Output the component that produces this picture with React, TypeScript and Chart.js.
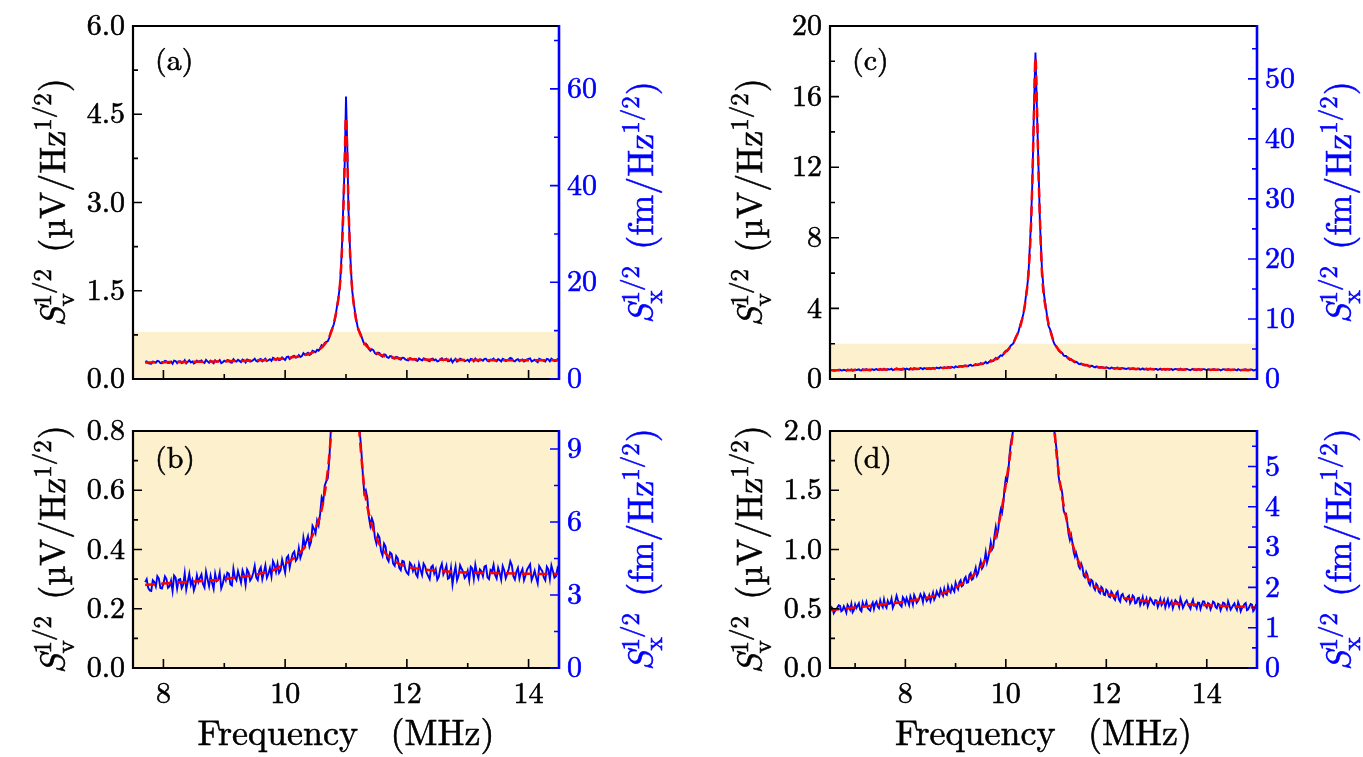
import React, { useEffect, useRef } from 'react';
import { Chart, registerables } from 'chart.js';

Chart.register(...registerables);

// ---------- Spectrum 1 (panels a, b): frequency in MHz, S_v^{1/2} in uV/Hz^{1/2}
const FREQ_1 = [
  7.70, 7.75, 7.80, 7.85, 7.90, 7.95, 8.00, 8.05, 8.10, 8.15, 8.20, 8.25, 8.30, 8.35, 8.40, 8.45,
  8.50, 8.55, 8.60, 8.65, 8.70, 8.75, 8.80, 8.85, 8.90, 8.95, 9.00, 9.05, 9.10, 9.15, 9.20, 9.25,
  9.30, 9.35, 9.40, 9.45, 9.50, 9.55, 9.60, 9.65, 9.70, 9.75, 9.80, 9.85, 9.90, 9.95, 10.00, 10.05,
  10.10, 10.15, 10.20, 10.25, 10.30, 10.35, 10.40, 10.45, 10.50, 10.55, 10.60, 10.65, 10.70, 10.75,
  10.80, 10.85, 10.90, 10.93, 10.96, 10.98, 11.00, 11.02, 11.04, 11.07,
  11.10, 11.15, 11.20, 11.25, 11.30, 11.35, 11.40, 11.45, 11.50, 11.55, 11.60, 11.65, 11.70, 11.75,
  11.80, 11.85, 11.90, 11.95, 12.00, 12.05, 12.10, 12.15, 12.20, 12.25, 12.30, 12.35, 12.40, 12.45,
  12.50, 12.55, 12.60, 12.65, 12.70, 12.75, 12.80, 12.85, 12.90, 12.95, 13.00, 13.05, 13.10, 13.15,
  13.20, 13.25, 13.30, 13.35, 13.40, 13.45, 13.50, 13.55, 13.60, 13.65, 13.70, 13.75, 13.80, 13.85,
  13.90, 13.95, 14.00, 14.05, 14.10, 14.15, 14.20, 14.25, 14.30, 14.35, 14.40, 14.45, 14.50,
];
const SIGNAL_1 = [
  0.29, 0.27, 0.26, 0.29, 0.31, 0.27, 0.285, 0.30, 0.276, 0.26, 0.305, 0.298, 0.27, 0.32, 0.291, 0.281,
  0.262, 0.313, 0.304, 0.284, 0.325, 0.276, 0.287, 0.318, 0.298, 0.269, 0.31, 0.322, 0.283, 0.335, 0.296, 0.308,
  0.329, 0.281, 0.322, 0.304, 0.345, 0.297, 0.34, 0.322, 0.305, 0.337, 0.36, 0.325, 0.321, 0.366, 0.322, 0.379,
  0.366, 0.393, 0.37, 0.372, 0.44, 0.428, 0.41, 0.48, 0.455, 0.482, 0.575, 0.615, 0.64, 0.80,
  0.93, 1.22, 1.58, 2.15, 3.1, 3.7, 4.80, 4.0, 2.9, 2.1,
  1.52, 1.13, 0.84, 0.74, 0.59, 0.575, 0.48, 0.49, 0.42, 0.44, 0.38, 0.41, 0.36, 0.385,
  0.345, 0.37, 0.33, 0.36, 0.322, 0.355, 0.328, 0.317, 0.35, 0.314, 0.343, 0.311, 0.34, 0.319,
  0.298, 0.337, 0.316, 0.345, 0.305, 0.282, 0.343, 0.312, 0.335, 0.304, 0.328, 0.342, 0.301, 0.32,
  0.333, 0.31, 0.345, 0.3, 0.326, 0.314, 0.338, 0.298, 0.33, 0.318, 0.36, 0.31, 0.325, 0.302,
  0.334, 0.312, 0.341, 0.297, 0.328, 0.286, 0.335, 0.306, 0.342, 0.3, 0.327, 0.31, 0.322,
];
// in-between samples of the same trace (wings)
const MID_FREQ_1 = [
  7.725, 7.775, 7.825, 7.875, 7.925, 7.975, 8.025, 8.075, 8.125, 8.175, 8.225, 8.275, 8.325, 8.375, 8.425, 8.475,
  8.525, 8.575, 8.625, 8.675, 8.725, 8.775, 8.825, 8.875, 8.925, 8.975, 9.025, 9.075, 9.125, 9.175, 9.225, 9.275,
  9.325, 9.375, 9.425, 9.475, 9.525, 9.575, 9.625, 9.675, 9.725, 9.775, 9.825, 9.875, 9.925, 9.975,
  10.025, 10.075, 10.125, 10.175, 10.225, 10.275, 10.325, 10.375, 10.425, 10.475, 10.525, 10.575, 10.625,
  10.675, 10.725, 10.775, 10.825, 10.875,
  11.125, 11.175, 11.225, 11.275, 11.325, 11.375, 11.425, 11.475, 11.525, 11.575, 11.625, 11.675, 11.725,
  11.775, 11.825, 11.875, 11.925, 11.975, 12.025, 12.075, 12.125, 12.175, 12.225, 12.275, 12.325, 12.375,
  12.425, 12.475, 12.525, 12.575, 12.625, 12.675, 12.725, 12.775, 12.825, 12.875, 12.925, 12.975,
  13.025, 13.075, 13.125, 13.175, 13.225, 13.275, 13.325, 13.375, 13.425, 13.475, 13.525, 13.575, 13.625,
  13.675, 13.725, 13.775, 13.825, 13.875, 13.925, 13.975, 14.025, 14.075, 14.125, 14.175, 14.225, 14.275,
  14.325, 14.375, 14.425, 14.475,
];
const MID_SIGNAL_1 = [
  0.300, 0.262, 0.296, 0.275, 0.302, 0.268, 0.309, 0.271, 0.295, 0.312, 0.268, 0.300, 0.281, 0.265, 0.318, 0.297,
  0.279, 0.290, 0.316, 0.272, 0.300, 0.311, 0.267, 0.293, 0.322, 0.284, 0.296, 0.318, 0.279, 0.306, 0.327, 0.288,
  0.314, 0.332, 0.295, 0.321, 0.306, 0.329, 0.300, 0.346, 0.318, 0.309, 0.348, 0.352, 0.330, 0.345,
  0.372, 0.340, 0.386, 0.362, 0.405, 0.388, 0.412, 0.445, 0.425, 0.470, 0.498, 0.52, 0.56,
  0.63, 0.70, 0.86, 1.05, 1.38,
  1.30, 0.97, 0.80, 0.66, 0.60, 0.51, 0.505, 0.44, 0.45, 0.395, 0.42, 0.37, 0.39,
  0.352, 0.378, 0.338, 0.362, 0.333, 0.316, 0.348, 0.343, 0.308, 0.331, 0.352, 0.322, 0.300,
  0.346, 0.333, 0.308, 0.352, 0.329, 0.301, 0.338, 0.318, 0.296, 0.347, 0.325, 0.311,
  0.296, 0.336, 0.348, 0.303, 0.327, 0.342, 0.306, 0.331, 0.348, 0.302, 0.321, 0.344, 0.303,
  0.335, 0.347, 0.299, 0.338, 0.322, 0.296, 0.332, 0.350, 0.311, 0.305, 0.344, 0.327, 0.296,
  0.333, 0.346, 0.305, 0.336,
];
const FIT_FREQ_1 = [
  7.7, 8.0, 8.5, 9.0, 9.5, 9.8, 10.0, 10.2, 10.4, 10.5, 10.6, 10.7, 10.75, 10.8, 10.85, 10.9, 10.93,
  10.96, 10.98, 11.0, 11.02, 11.04, 11.07, 11.1, 11.15, 11.2, 11.25, 11.3, 11.4, 11.5, 11.6, 11.8,
  12.0, 12.2, 12.5, 13.0, 13.5, 14.0, 14.5,
];
const FIT_1 = [
  0.280, 0.285, 0.292, 0.300, 0.315, 0.330, 0.352, 0.380, 0.430, 0.470, 0.535, 0.665, 0.78, 0.95, 1.2, 1.6, 2.1,
  3.0, 3.8, 4.45, 3.85, 3.0, 2.05, 1.55, 1.1, 0.86, 0.72, 0.61, 0.50, 0.44, 0.40, 0.36,
  0.342, 0.335, 0.328, 0.322, 0.320, 0.318, 0.317,
];

// ---------- Spectrum 2 (panels c, d)
const FREQ_2 = [
  6.50, 6.55, 6.60, 6.65, 6.70, 6.75, 6.80, 6.85, 6.90, 6.95,
  7.00, 7.05, 7.10, 7.15, 7.20, 7.25, 7.30, 7.35, 7.40, 7.45,
  7.50, 7.55, 7.60, 7.65, 7.70, 7.75, 7.80, 7.85, 7.90, 7.95,
  8.00, 8.05, 8.10, 8.15, 8.20, 8.25, 8.30, 8.35, 8.40, 8.45,
  8.50, 8.55, 8.60, 8.65, 8.70, 8.75, 8.80, 8.85, 8.90, 8.95,
  9.00, 9.05, 9.10, 9.15, 9.20, 9.25, 9.30, 9.35, 9.40, 9.45,
  9.50, 9.55, 9.60, 9.65, 9.70, 9.75, 9.80, 9.85, 9.90, 9.95,
  10.00, 10.05, 10.10, 10.15, 10.20, 10.25, 10.30, 10.35, 10.40, 10.45,
  10.50, 10.53, 10.56, 10.59, 10.62, 10.65, 10.68, 10.72, 10.76, 10.80,
  10.85, 10.90, 10.95,
  11.00, 11.05, 11.10, 11.15, 11.20, 11.25, 11.30, 11.35, 11.40, 11.45,
  11.50, 11.55, 11.60, 11.65, 11.70, 11.75, 11.80, 11.85, 11.90, 11.95,
  12.00, 12.05, 12.10, 12.15, 12.20, 12.25, 12.30, 12.35, 12.40, 12.45,
  12.50, 12.55, 12.60, 12.65, 12.70, 12.75, 12.80, 12.85, 12.90, 12.95,
  13.00, 13.05, 13.10, 13.15, 13.20, 13.25, 13.30, 13.35, 13.40, 13.45,
  13.50, 13.55, 13.60, 13.65, 13.70, 13.75, 13.80, 13.85, 13.90, 13.95,
  14.00, 14.05, 14.10, 14.15, 14.20, 14.25, 14.30, 14.35, 14.40, 14.45,
  14.50, 14.55, 14.60, 14.65, 14.70, 14.75, 14.80, 14.85, 14.90, 14.95,
  15.00,
];
const SIGNAL_2 = [
  0.47, 0.505, 0.48, 0.512, 0.524, 0.487, 0.50, 0.532, 0.492, 0.47,
  0.536, 0.525, 0.49, 0.552, 0.52, 0.506, 0.484, 0.552, 0.543, 0.518,
  0.57, 0.512, 0.527, 0.566, 0.545, 0.508, 0.562, 0.576, 0.53, 0.598,
  0.545, 0.562, 0.604, 0.535, 0.59, 0.566, 0.622, 0.556, 0.60, 0.579,
  0.564, 0.635, 0.602, 0.62, 0.662, 0.61, 0.625, 0.69, 0.638, 0.663,
  0.72, 0.665, 0.74, 0.70, 0.768, 0.724, 0.80, 0.755, 0.845, 0.802,
  0.90, 0.858, 0.975, 0.93, 1.06, 1.02, 1.19, 1.17, 1.34, 1.39,
  1.60, 1.66, 1.90, 2.02, 2.4, 2.65, 3.2, 3.7, 4.7, 5.9,
  8.8, 11.3, 15.3, 18.5, 15.2, 12.0, 8.8, 6.2, 4.8, 4.0,
  3.0, 2.65, 2.1,
  1.88, 1.62, 1.53, 1.33, 1.30, 1.13, 1.12, 0.98, 0.97, 0.86,
  0.88, 0.78, 0.81, 0.72, 0.745, 0.68, 0.71, 0.645, 0.685, 0.62,
  0.66, 0.605, 0.645, 0.59, 0.632, 0.578, 0.615, 0.592, 0.565, 0.61,
  0.57, 0.60, 0.55, 0.592, 0.56, 0.538, 0.585, 0.552, 0.575, 0.535,
  0.57, 0.545, 0.53, 0.575, 0.548, 0.522, 0.565, 0.54, 0.558, 0.515,
  0.552, 0.531, 0.57, 0.52, 0.548, 0.526, 0.505, 0.55, 0.532, 0.56,
  0.51, 0.54, 0.522, 0.552, 0.505, 0.535, 0.515, 0.546, 0.498, 0.53,
  0.51, 0.545, 0.49, 0.525, 0.505, 0.54, 0.488, 0.52, 0.535, 0.495,
  0.515,
];
const MID_FREQ_2 = [
  6.525, 6.575, 6.625, 6.675, 6.725, 6.775, 6.825, 6.875, 6.925, 6.975,
  7.025, 7.075, 7.125, 7.175, 7.225, 7.275, 7.325, 7.375, 7.425, 7.475,
  7.525, 7.575, 7.625, 7.675, 7.725, 7.775, 7.825, 7.875, 7.925, 7.975,
  8.025, 8.075, 8.125, 8.175, 8.225, 8.275, 8.325, 8.375, 8.425, 8.475,
  8.525, 8.575, 8.625, 8.675, 8.725, 8.775, 8.825, 8.875, 8.925, 8.975,
  9.025, 9.075, 9.125, 9.175, 9.225, 9.275, 9.325, 9.375, 9.425, 9.475,
  9.525, 9.575, 9.625, 9.675, 9.725, 9.775, 9.825, 9.875, 9.925, 9.975,
  10.025, 10.075, 10.125, 10.175, 10.225, 10.275, 10.325, 10.375, 10.425,
  10.875, 10.925, 10.975,
  11.025, 11.075, 11.125, 11.175, 11.225, 11.275, 11.325, 11.375, 11.425, 11.475,
  11.525, 11.575, 11.625, 11.675, 11.725, 11.775, 11.825, 11.875, 11.925, 11.975,
  12.025, 12.075, 12.125, 12.175, 12.225, 12.275, 12.325, 12.375, 12.425, 12.475,
  12.525, 12.575, 12.625, 12.675, 12.725, 12.775, 12.825, 12.875, 12.925, 12.975,
  13.025, 13.075, 13.125, 13.175, 13.225, 13.275, 13.325, 13.375, 13.425, 13.475,
  13.525, 13.575, 13.625, 13.675, 13.725, 13.775, 13.825, 13.875, 13.925, 13.975,
  14.025, 14.075, 14.125, 14.175, 14.225, 14.275, 14.325, 14.375, 14.425, 14.475,
  14.525, 14.575, 14.625, 14.675, 14.725, 14.775, 14.825, 14.875, 14.925, 14.975,
];
const MID_SIGNAL_2 = [
  0.515, 0.462, 0.498, 0.530, 0.478, 0.521, 0.468, 0.515, 0.540, 0.488,
  0.505, 0.545, 0.478, 0.520, 0.556, 0.494, 0.530, 0.498, 0.560, 0.505,
  0.532, 0.578, 0.508, 0.540, 0.585, 0.535, 0.610, 0.545, 0.518, 0.582,
  0.590, 0.532, 0.575, 0.615, 0.550, 0.588, 0.600, 0.625, 0.565, 0.612,
  0.598, 0.578, 0.645, 0.606, 0.632, 0.668, 0.618, 0.652, 0.690, 0.645,
  0.688, 0.722, 0.690, 0.752, 0.720, 0.785, 0.745, 0.805, 0.780, 0.855,
  0.840, 0.905, 0.890, 0.985, 1.00, 1.12, 1.12, 1.28, 1.31, 1.52,
  1.58, 1.80, 1.95, 2.2, 2.5, 2.95, 3.4, 4.1, 5.2,
  2.85, 2.35, 1.95,
  1.78, 1.55, 1.47, 1.30, 1.22, 1.08, 1.06, 0.94, 0.93, 0.84,
  0.85, 0.765, 0.785, 0.70, 0.735, 0.66, 0.695, 0.632, 0.672, 0.615,
  0.648, 0.598, 0.628, 0.575, 0.645, 0.560, 0.625, 0.578, 0.600, 0.548,
  0.612, 0.545, 0.588, 0.532, 0.598, 0.552, 0.520, 0.590, 0.548, 0.572,
  0.515, 0.582, 0.548, 0.512, 0.578, 0.545, 0.505, 0.572, 0.550, 0.588,
  0.508, 0.555, 0.540, 0.500, 0.575, 0.532, 0.552, 0.498, 0.562, 0.528,
  0.548, 0.495, 0.560, 0.515, 0.542, 0.488, 0.552, 0.525, 0.562, 0.492,
  0.530, 0.512, 0.555, 0.478, 0.520, 0.548, 0.495, 0.540, 0.480, 0.528,
];
const FIT_FREQ_2 = [
  6.5, 7.0, 7.5, 8.0, 8.5, 8.8, 9.0, 9.2, 9.4, 9.5, 9.6, 9.7, 9.8, 9.9, 10.0, 10.1, 10.15, 10.2, 10.3,
  10.4, 10.45, 10.5, 10.53, 10.56, 10.59, 10.62, 10.65, 10.68, 10.72, 10.8, 10.9, 10.95, 11.0, 11.05,
  11.1, 11.2, 11.3, 11.4, 11.5, 11.6, 11.7, 11.85, 12.0, 12.25, 12.5, 13.0, 13.5, 14.0, 14.5, 15.0,
];
const FIT_2 = [
  0.49, 0.51, 0.535, 0.56, 0.6, 0.64, 0.68, 0.73, 0.8, 0.85, 0.92, 1.0, 1.12, 1.3, 1.55, 1.85, 2.05, 2.35, 3.1,
  4.6, 6.0, 8.6, 11.5, 15.0, 18.2, 15.5, 11.8, 9.0, 6.0, 3.9, 2.6, 2.15, 1.85, 1.66,
  1.5, 1.27, 1.09, 0.95, 0.85, 0.78, 0.72, 0.67, 0.63, 0.6, 0.58, 0.555, 0.54, 0.53, 0.52, 0.51,
];

// ---------- Axes / panels
const PANEL_LABELS = ['(a)', '(b)', '(c)', '(d)'];
const PANEL_SPECTRUM = [0, 0, 1, 1];
const X_MIN = [7.5, 7.5, 6.5, 6.5];
const X_MAX = [14.5, 14.5, 15, 15];
const X_MAJOR = [8, 10, 12, 14];
const X_MINOR = [[9, 11, 13], [9, 11, 13], [7, 9, 11, 13], [7, 9, 11, 13]];
const SHOW_X_LABELS = [false, true, false, true];
const Y_MAX = [6.0, 0.8, 20, 2.0];
const Y_MAJOR = [[0, 1.5, 3, 4.5, 6], [0, 0.2, 0.4, 0.6, 0.8], [0, 4, 8, 12, 16, 20], [0, 0.5, 1, 1.5, 2]];
const Y_MINOR = [[0.75, 2.25, 3.75, 5.25], [0.1, 0.3, 0.5, 0.7], [2, 6, 10, 14, 18], [0.25, 0.75, 1.25, 1.75]];
const Y_DECIMALS = [1, 1, 0, 1];
const Y2_MAX = [73.0, 9.74, 58.8, 5.88];
const Y2_MAJOR = [[0, 20, 40, 60], [0, 3, 6, 9], [0, 10, 20, 30, 40, 50], [0, 1, 2, 3, 4, 5]];
const Y2_MINOR = [[10, 30, 50, 70], [1.5, 4.5, 7.5], [5, 15, 25, 35, 45, 55], [0.5, 1.5, 2.5, 3.5, 4.5, 5.5]];
const SHADE_TOP = [0.8, 0.8, 2.0, 2.0];

const X_TITLE_WORDS = ['Frequency', '(MHz)'];
type Seg = { main?: string; italic?: boolean; sup?: string; sub?: string; gap?: number };
const Y_LEFT_TITLE: Seg[] = [
  { main: 'S', italic: true }, { sup: '1/2', sub: 'v' }, { gap: 0.42 },
  { main: '(\u00B5V/Hz' }, { sup: '1/2' }, { main: ')' },
];
const Y_RIGHT_TITLE: Seg[] = [
  { main: 'S', italic: true }, { sup: '1/2', sub: 'x' }, { gap: 0.42 },
  { main: '(fm/Hz' }, { sup: '1/2' }, { main: ')' },
];

// ---------- Styles / layout
const FONT = '"Latin Modern Roman", "Liberation Serif", serif';
const BLUE = '#0000FF';
const RED = '#FF0000';
const SHADE = '#FDF0CD';
const TICK_SIZE = 30;
const TITLE_SIZE = 36;
const TEXT_STROKE = 0.6;

const LAYOUT = [
  { left: 0, top: 0, w: 680, h: 405, l: 133, r: 559, t: 17, b: 390, labelDy: 44 },
  { left: 0, top: 405, w: 680, h: 352, l: 133, r: 559, t: 15, b: 263, labelDy: 37 },
  { left: 680, top: 0, w: 683, h: 405, l: 150, r: 577, t: 17, b: 390, labelDy: 44 },
  { left: 680, top: 405, w: 683, h: 352, l: 150, r: 577, t: 15, b: 263, labelDy: 37 },
];

function segWidth(ctx: CanvasRenderingContext2D, seg: Seg, M: number): number {
  if (seg.gap) return seg.gap * M;
  if (seg.main) {
    ctx.font = `${seg.italic ? 'italic ' : ''}${M}px ${FONT}`;
    return ctx.measureText(seg.main).width;
  }
  ctx.font = `${Math.round(M * 0.7)}px ${FONT}`;
  const a = seg.sup ? ctx.measureText(seg.sup).width : 0;
  const b = seg.sub ? ctx.measureText(seg.sub).width : 0;
  return Math.max(a, b) + 1;
}

function text(ctx: CanvasRenderingContext2D, s: string, x: number, y: number) {
  ctx.fillText(s, x, y);
  ctx.strokeText(s, x, y);
}

function drawRich(ctx: CanvasRenderingContext2D, segs: Seg[], M: number, bx: number, cy: number, color: string) {
  ctx.save();
  ctx.translate(bx, cy);
  ctx.rotate(-Math.PI / 2);
  const W = segs.reduce((s, g) => s + segWidth(ctx, g, M), 0);
  let x = -W / 2;
  ctx.fillStyle = color;
  ctx.strokeStyle = color;
  ctx.lineWidth = TEXT_STROKE;
  ctx.textAlign = 'left';
  ctx.textBaseline = 'alphabetic';
  for (const seg of segs) {
    const w = segWidth(ctx, seg, M);
    if (seg.main) {
      ctx.font = `${seg.italic ? 'italic ' : ''}${M}px ${FONT}`;
      text(ctx, seg.main, x, 0);
    } else if (!seg.gap) {
      ctx.font = `${Math.round(M * 0.7)}px ${FONT}`;
      if (seg.sup) text(ctx, seg.sup, x, -M * 0.4);
      if (seg.sub) text(ctx, seg.sub, x, M * 0.24);
    }
    x += w;
  }
  ctx.restore();
}

function makeDecor(idx: number) {
  const L = LAYOUT[idx];
  return {
    id: 'decor' + idx,
    beforeDatasetsDraw(chart: any) {
      const { ctx, chartArea, scales } = chart;
      const yTop = scales.y.getPixelForValue(SHADE_TOP[idx]);
      ctx.save();
      ctx.fillStyle = SHADE;
      ctx.fillRect(chartArea.left, yTop, chartArea.right - chartArea.left, chartArea.bottom - yTop);
      ctx.restore();
    },
    afterDatasetsDraw(chart: any) {
      const { ctx, chartArea, scales } = chart;
      const { left, right, top, bottom } = chartArea;
      ctx.save();
      ctx.lineWidth = 1.6;
      ctx.strokeStyle = '#000';
      ctx.beginPath();
      const xs = scales.x;
      X_MAJOR.forEach((v) => { const p = xs.getPixelForValue(v); ctx.moveTo(p, bottom); ctx.lineTo(p, bottom - 9); });
      X_MINOR[idx].forEach((v) => { const p = xs.getPixelForValue(v); if (p < right - 1) { ctx.moveTo(p, bottom); ctx.lineTo(p, bottom - 5); } });
      const ys = scales.y;
      Y_MAJOR[idx].forEach((v) => { const p = ys.getPixelForValue(v); ctx.moveTo(left, p); ctx.lineTo(left + 9, p); });
      Y_MINOR[idx].forEach((v) => { const p = ys.getPixelForValue(v); ctx.moveTo(left, p); ctx.lineTo(left + 5, p); });
      ctx.stroke();
      ctx.lineWidth = 2.2;
      ctx.beginPath();
      ctx.moveTo(right, top); ctx.lineTo(left, top); ctx.lineTo(left, bottom); ctx.lineTo(right, bottom);
      ctx.stroke();
      ctx.strokeStyle = BLUE;
      ctx.lineWidth = 1.6;
      ctx.beginPath();
      const y2 = scales.y2;
      Y2_MAJOR[idx].forEach((v) => { const p = y2.getPixelForValue(v); ctx.moveTo(right, p); ctx.lineTo(right - 9, p); });
      Y2_MINOR[idx].forEach((v) => { const p = y2.getPixelForValue(v); if (p > top + 1) { ctx.moveTo(right, p); ctx.lineTo(right - 5, p); } });
      ctx.stroke();
      ctx.lineWidth = 2.6;
      ctx.beginPath();
      ctx.moveTo(right, top - 1); ctx.lineTo(right, bottom + 1);
      ctx.stroke();
      ctx.restore();
    },
    afterDraw(chart: any) {
      const { ctx, chartArea } = chart;
      const { left, right, top, bottom } = chartArea;
      const cy = (top + bottom) / 2;
      drawRich(ctx, Y_LEFT_TITLE, TITLE_SIZE, left - 68, cy, '#000');
      drawRich(ctx, Y_RIGHT_TITLE, TITLE_SIZE, right + 94, cy, BLUE);
      ctx.save();
      ctx.fillStyle = '#000';
      ctx.strokeStyle = '#000';
      ctx.lineWidth = TEXT_STROKE;
      ctx.textAlign = 'left';
      ctx.textBaseline = 'alphabetic';
      ctx.font = `${TICK_SIZE}px ${FONT}`;
      text(ctx, PANEL_LABELS[idx], left + 22, top + L.labelDy);
      if (SHOW_X_LABELS[idx]) {
        ctx.font = `${TITLE_SIZE}px ${FONT}`;
        const w1 = ctx.measureText(X_TITLE_WORDS[0]).width;
        const w2 = ctx.measureText(X_TITLE_WORDS[1]).width;
        const gap = TITLE_SIZE * 0.9;
        const x0 = (left + right) / 2 - (w1 + gap + w2) / 2;
        text(ctx, X_TITLE_WORDS[0], x0, bottom + 77);
        text(ctx, X_TITLE_WORDS[1], x0 + w1 + gap, bottom + 77);
      }
      ctx.restore();
    },
  };
}

function tracePoints(f1: number[], v1: number[], f2: number[], v2: number[]) {
  const pts = f1.map((f, i) => ({ x: f, y: v1[i] })).concat(f2.map((f, i) => ({ x: f, y: v2[i] })));
  pts.sort((a, b) => a.x - b.x);
  return pts;
}

function Panel({ idx }: { idx: number }) {
  const ref = useRef<HTMLCanvasElement>(null);
  const L = LAYOUT[idx];
  useEffect(() => {
    const spec = PANEL_SPECTRUM[idx];
    const trace = spec === 0
      ? tracePoints(FREQ_1, SIGNAL_1, MID_FREQ_1, MID_SIGNAL_1)
      : tracePoints(FREQ_2, SIGNAL_2, MID_FREQ_2, MID_SIGNAL_2);
    const fitF = spec === 0 ? FIT_FREQ_1 : FIT_FREQ_2;
    const fit = spec === 0 ? FIT_1 : FIT_2;
    const tickFont = { family: FONT, size: TICK_SIZE };
    const chart = new Chart(ref.current as HTMLCanvasElement, {
      type: 'line',
      data: {
        datasets: [
          {
            label: 'fit',
            data: fitF.map((f, i) => ({ x: f, y: fit[i] })),
            borderColor: RED,
            borderWidth: 2.5,
            borderDash: [10, 6],
            pointRadius: 0,
            cubicInterpolationMode: 'monotone',
            fill: false,
          },
          {
            label: 'measured',
            data: trace,
            borderColor: BLUE,
            borderWidth: 1.9,
            pointRadius: 0,
            tension: 0,
            fill: false,
          },
        ],
      },
      options: {
        responsive: false,
        animation: false,
        events: [],
        layout: { padding: { top: L.t, left: 0, right: 0, bottom: 0 }, autoPadding: false },
        plugins: { legend: { display: false }, tooltip: { enabled: false }, title: { display: false } },
        scales: {
          x: {
            type: 'linear',
            position: 'bottom',
            min: X_MIN[idx],
            max: X_MAX[idx],
            grid: { display: false, drawTicks: false },
            border: { display: false },
            ticks: {
              display: SHOW_X_LABELS[idx],
              font: tickFont,
              color: '#000',
              textStrokeColor: '#000',
              textStrokeWidth: TEXT_STROKE,
              padding: 8,
              maxRotation: 0,
              autoSkip: false,
              callback: (v: any) => String(v),
            },
            afterBuildTicks: (sc: any) => { sc.ticks = X_MAJOR.map((v) => ({ value: v })); },
            afterFit: (sc: any) => { sc.height = L.h - L.b; },
          },
          y: {
            type: 'linear',
            position: 'left',
            min: 0,
            max: Y_MAX[idx],
            grid: { display: false, drawTicks: false },
            border: { display: false },
            ticks: {
              font: tickFont,
              color: '#000',
              textStrokeColor: '#000',
              textStrokeWidth: TEXT_STROKE,
              padding: 8,
              autoSkip: false,
              callback: (v: any) => Number(v).toFixed(Y_DECIMALS[idx]),
            },
            afterBuildTicks: (sc: any) => { sc.ticks = Y_MAJOR[idx].map((v) => ({ value: v })); },
            afterFit: (sc: any) => { sc.width = L.l; },
          },
          y2: {
            type: 'linear',
            position: 'right',
            display: true,
            min: 0,
            max: Y2_MAX[idx],
            grid: { display: false, drawTicks: false },
            border: { display: false },
            ticks: {
              font: tickFont,
              color: BLUE,
              textStrokeColor: BLUE,
              textStrokeWidth: TEXT_STROKE,
              padding: 8,
              autoSkip: false,
              callback: (v: any) => String(v),
            },
            afterBuildTicks: (sc: any) => { sc.ticks = Y2_MAJOR[idx].map((v) => ({ value: v })); },
            afterFit: (sc: any) => { sc.width = L.w - L.r; },
          },
        },
      } as any,
      plugins: [makeDecor(idx)],
    });
    return () => chart.destroy();
  }, [idx]);
  return (
    <canvas
      ref={ref}
      width={L.w}
      height={L.h}
      style={{ position: 'absolute', left: L.left, top: L.top, width: L.w, height: L.h }}
    />
  );
}

export default function App() {
  return (
    <div style={{ position: 'absolute', left: 0, top: 0, width: 1363, height: 757, background: '#fff', overflow: 'hidden' }}>
      {[0, 1, 2, 3].map((i) => (
        <Panel key={i} idx={i} />
      ))}
    </div>
  );
}
